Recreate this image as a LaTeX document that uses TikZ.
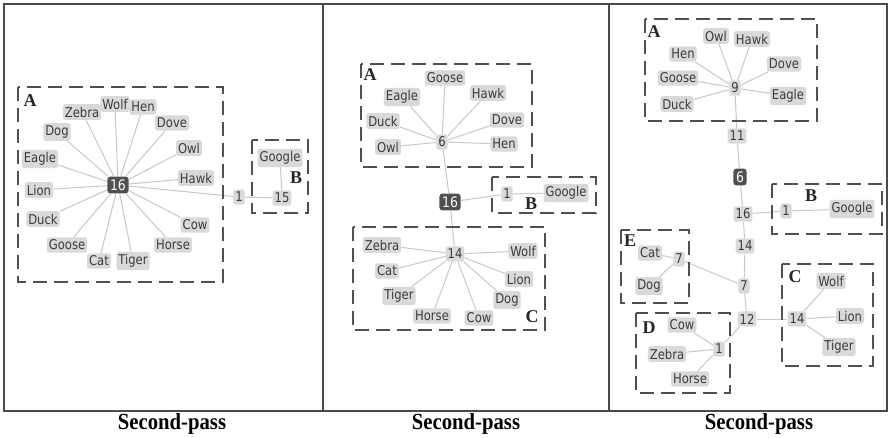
\documentclass[tikz,border=0pt]{standalone}
\usepackage{fontspec}
\setmainfont{Liberation Serif}
\newfontfamily\djv{DejaVu Sans}[FakeStretch=0.86]
\newfontfamily\capserif{Liberation Serif}[FakeStretch=0.9]
\definecolor{labfill}{HTML}{D9D9D9}
\definecolor{labtext}{HTML}{3C3C3C}
\definecolor{edgecol}{HTML}{C8C8C8}
\definecolor{boxcol}{HTML}{505050}
\definecolor{darkfill}{HTML}{505050}
\definecolor{framecol}{HTML}{4A4A4A}
\pgfdeclarelayer{bg}
\pgfsetlayers{bg,main}
\tikzset{
  lab/.style={fill=labfill, rounded corners=2.5pt, inner xsep=2pt, inner ysep=2.6pt, text=labtext, font=\djv\fontsize{13.5}{15}\selectfont},
  darknode/.style={fill=darkfill, rounded corners=3pt, inner xsep=2.6pt, inner ysep=3pt, text=white, font=\djv\fontsize{14.5}{16}\selectfont},
  conn/.style={draw=edgecol, line width=1pt},
  grp/.style={draw=boxcol, line width=1.8pt, dash pattern=on 14pt off 7pt},
  grplab/.style={font=\bfseries\fontsize{18}{19}\selectfont, inner sep=0pt, text=black!85},
  captext/.style={font=\capserif\bfseries\fontsize{23}{25}\selectfont, inner sep=0pt},
  outerframe/.style={draw=framecol, line width=1.8pt}
}
\begin{document}
\begin{tikzpicture}[x=1pt,y=-1pt]
\useasboundingbox (0,0) rectangle (890,438);
% frame
\draw[outerframe] (4,4) rectangle (887,411);
\draw[outerframe] (323,4) -- (323,411);
\draw[outerframe] (609,4) -- (609,411);
\node[captext] (c1) at (172,424) {Second-pass};
\node[captext] (c2) at (466,424) {Second-pass};
\node[captext] (c3) at (759,424) {Second-pass};

% ===== Panel 1 =====
\draw[grp] (18,87) rectangle (223,282);
\node[grplab] (p1A) at (30,101) {A};
\draw[grp] (252,140) rectangle (308,213);
\node[grplab] (p1B) at (296,178) {B};
\node[darknode] (p1c) at (118,185) {16};
\node[lab] (p1zebra) at (82,112) {Zebra};
\node[lab] (p1wolf) at (115,104) {Wolf};
\node[lab] (p1hen) at (143,107) {Hen};
\node[lab] (p1dove) at (172,123) {Dove};
\node[lab] (p1dog) at (57,132) {Dog};
\node[lab] (p1owl) at (189,148) {Owl};
\node[lab] (p1eagle) at (40,159) {Eagle};
\node[lab] (p1hawk) at (196,178) {Hawk};
\node[lab] (p1lion) at (39,190) {Lion};
\node[lab] (p1duck) at (43,219) {Duck};
\node[lab] (p1cow) at (195,225) {Cow};
\node[lab] (p1goose) at (67,245) {Goose};
\node[lab] (p1horse) at (173,245) {Horse};
\node[lab] (p1cat) at (99,261) {Cat};
\node[lab] (p1tiger) at (133,261) {Tiger};
\node[lab] (p1one) at (239,197) {1};
\node[lab] (p1google) at (280,158) {Google};
\node[lab] (p1fift) at (282,198) {15};
\begin{pgfonlayer}{bg}
\foreach \n in {zebra,wolf,hen,dove,dog,owl,eagle,hawk,lion,duck,cow,goose,horse,cat,tiger}
  \draw[conn] (p1c) -- (p1\n);
\draw[conn] (p1c) -- (p1one);
\draw[conn] (p1one) -- (p1fift);
\draw[conn] (p1google) -- (p1fift);
\end{pgfonlayer}

% ===== Panel 2 =====
\draw[grp] (361,64) rectangle (532,167);
\node[grplab] (p2A) at (370,75) {A};
\draw[grp] (492,177) rectangle (596,213);
\node[grplab] (p2B) at (531,204) {B};
\draw[grp] (353,227) rectangle (545,330);
\node[grplab] (p2C) at (532,317) {C};
\node[lab] (p2six) at (442,142) {6};
\node[lab] (p2goose) at (445,78) {Goose};
\node[lab] (p2eagle) at (402,97) {Eagle};
\node[lab] (p2hawk) at (488,93) {Hawk};
\node[lab] (p2duck) at (383,121) {Duck};
\node[lab] (p2dove) at (507,120) {Dove};
\node[lab] (p2owl) at (388,147) {Owl};
\node[lab] (p2hen) at (504,144) {Hen};
\node[darknode] (p2c) at (450,202) {16};
\node[lab] (p2one) at (507,194) {1};
\node[lab] (p2google) at (566,193) {Google};
\node[lab] (p2ft) at (455,254) {14};
\node[lab] (p2zebra) at (382,245) {Zebra};
\node[lab] (p2wolf) at (523,251) {Wolf};
\node[lab] (p2cat) at (387,271) {Cat};
\node[lab] (p2lion) at (519,279) {Lion};
\node[lab] (p2tiger) at (399,296) {Tiger};
\node[lab] (p2dog) at (507,300) {Dog};
\node[lab] (p2horse) at (432,316) {Horse};
\node[lab] (p2cow) at (479,318) {Cow};
\begin{pgfonlayer}{bg}
\foreach \n in {goose,eagle,hawk,duck,dove,owl,hen}
  \draw[conn] (p2six) -- (p2\n);
\foreach \n in {zebra,wolf,cat,lion,tiger,dog,horse,cow}
  \draw[conn] (p2ft) -- (p2\n);
\draw[conn] (p2six) -- (p2c);
\draw[conn] (p2c) -- (p2ft);
\draw[conn] (p2c) -- (p2one);
\draw[conn] (p2one) -- (p2google);
\end{pgfonlayer}

% ===== Panel 3 =====
\draw[grp] (645,19) rectangle (817,121);
\node[grplab] (p3A) at (654,32) {A};
\draw[grp] (772,184) rectangle (882,234);
\node[grplab] (p3B) at (811,196) {B};
\draw[grp] (621,230) rectangle (689,303);
\node[grplab] (p3E) at (630,241) {E};
\draw[grp] (782,264) rectangle (873,366);
\node[grplab] (p3C) at (795,277) {C};
\draw[grp] (636,313) rectangle (730,393);
\node[grplab] (p3D) at (649,328) {D};
\node[lab] (p3nine) at (735,88) {9};
\node[lab] (p3owl) at (716,36) {Owl};
\node[lab] (p3hawk) at (752,39) {Hawk};
\node[lab] (p3hen) at (683,54) {Hen};
\node[lab] (p3dove) at (784,64) {Dove};
\node[lab] (p3goose) at (678,78) {Goose};
\node[lab] (p3eagle) at (788,96) {Eagle};
\node[lab] (p3duck) at (677,104) {Duck};
\node[lab] (p3eleven) at (737,136) {11};
\node[darknode] (p3six) at (740,177) {6};
\node[lab] (p3sixteen) at (743,214) {16};
\node[lab] (p3one) at (786,211) {1};
\node[lab] (p3google) at (852,209) {Google};
\node[lab] (p3ft) at (745,246) {14};
\node[lab] (p3sevenE) at (679,259) {7};
\node[lab] (p3cat) at (650,253) {Cat};
\node[lab] (p3dog) at (649,286) {Dog};
\node[lab] (p3seven) at (744,286) {7};
\node[lab] (p3twelve) at (747,319) {12};
\node[lab] (p3ftC) at (797,319) {14};
\node[lab] (p3wolf) at (831,281) {Wolf};
\node[lab] (p3lion) at (850,316) {Lion};
\node[lab] (p3tiger) at (839,347) {Tiger};
\node[lab] (p3oneD) at (719,349) {1};
\node[lab] (p3cow) at (682,325) {Cow};
\node[lab] (p3zebra) at (667,354) {Zebra};
\node[lab] (p3horse) at (690,379) {Horse};
\begin{pgfonlayer}{bg}
\foreach \n in {owl,hawk,hen,dove,goose,eagle,duck}
  \draw[conn] (p3nine) -- (p3\n);
\draw[conn] (p3nine) -- (p3eleven);
\draw[conn] (p3eleven) -- (p3six);
\draw[conn] (p3six) -- (p3sixteen);
\draw[conn] (p3sixteen) -- (p3ft);
\draw[conn] (p3ft) -- (p3seven);
\draw[conn] (p3seven) -- (p3twelve);
\draw[conn] (p3sixteen) -- (p3one);
\draw[conn] (p3one) -- (p3google);
\draw[conn] (p3sevenE) -- (p3cat);
\draw[conn] (p3sevenE) -- (p3dog);
\draw[conn] (p3sevenE) -- (p3seven);
\draw[conn] (p3twelve) -- (p3ftC);
\foreach \n in {wolf,lion,tiger}
  \draw[conn] (p3ftC) -- (p3\n);
\draw[conn] (p3twelve) -- (p3oneD);
\foreach \n in {cow,zebra,horse}
  \draw[conn] (p3oneD) -- (p3\n);
\end{pgfonlayer}
\end{tikzpicture}
\end{document}
